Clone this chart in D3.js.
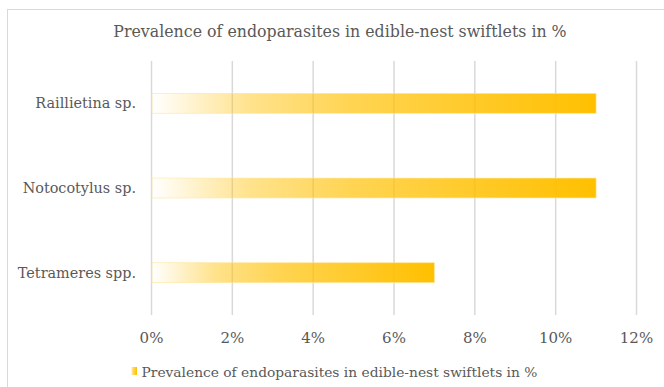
<!DOCTYPE html>
<html>
<head>
<meta charset="utf-8">
<style>
    body { margin: 0; background: #fff; }
</style>
<script src="https://d3js.org/d3.v7.min.js"></script>
</head>
<body>
<script>
    // data
    const categories = ['Raillietina sp.', 'Notocotylus sp.', 'Tetrameres spp.'];
    const prevalence = [0.11, 0.11, 0.07];
    const tickValues = [0, 0.02, 0.04, 0.06, 0.08, 0.10, 0.12];
    const seriesName = 'Prevalence of endoparasites in edible-nest swiftlets in %';
    const title = 'Prevalence of endoparasites in edible-nest swiftlets in %';

    const width = 664, height = 387;
    const plot = { left: 151.5, right: 636.5, top: 61, bottom: 315 };
    const serif = '"DejaVu Serif", serif';

    const svg = d3.select('body').append('svg')
        .attr('width', width)
        .attr('height', height)
        .style('font-family', serif);

    // gradient used by the bars
    const grad = svg.append('defs').append('linearGradient')
        .attr('id', 'barGrad')
        .attr('x1', '0%').attr('x2', '100%').attr('y1', '0%').attr('y2', '0%');
    grad.append('stop').attr('offset', '0%').attr('stop-color', '#FFC000').attr('stop-opacity', 0);
    grad.append('stop').attr('offset', '22%').attr('stop-color', '#FFC000').attr('stop-opacity', 0.45);
    grad.append('stop').attr('offset', '45%').attr('stop-color', '#FFC000').attr('stop-opacity', 0.68);
    grad.append('stop').attr('offset', '100%').attr('stop-color', '#FFC000').attr('stop-opacity', 1);

    // chart frame
    svg.append('rect')
        .attr('x', 7.5).attr('y', 9.5)
        .attr('width', width + 20).attr('height', height + 20)
        .attr('fill', 'none')
        .attr('stroke', '#d9d9d9')
        .attr('stroke-width', 1);

    const x = d3.scaleLinear()
        .domain([0, 0.12])
        .range([plot.left, plot.right]);

    const y = d3.scaleBand()
        .domain(categories)
        .range([plot.top, plot.bottom])
        .paddingInner(0.765)
        .paddingOuter(0.3825);

    // vertical gridlines
    svg.append('g')
        .selectAll('line')
        .data(tickValues)
        .join('line')
        .attr('x1', d => x(d)).attr('x2', d => x(d))
        .attr('y1', plot.top).attr('y2', plot.bottom)
        .attr('stroke', '#d9d9d9')
        .attr('stroke-width', 1.5);

    // x tick labels
    svg.append('g')
        .selectAll('text')
        .data(tickValues)
        .join('text')
        .attr('x', d => x(d))
        .attr('y', 343)
        .attr('text-anchor', 'middle')
        .attr('fill', '#595959')
        .attr('font-size', 15)
        .text(d3.format('.0%'));

    // bars
    svg.append('g')
        .selectAll('rect')
        .data(prevalence)
        .join('rect')
        .attr('x', x(0) + 0.5)
        .attr('y', (d, i) => y(categories[i]))
        .attr('width', d => x(d) - x(0) - 0.5)
        .attr('height', y.bandwidth())
        .attr('fill', 'url(#barGrad)')
        .attr('stroke', '#FFE699')
        .attr('stroke-opacity', 0.8)
        .attr('stroke-width', 0.75);

    // category labels
    svg.append('g')
        .selectAll('text')
        .data(categories)
        .join('text')
        .attr('x', 136)
        .attr('y', d => y(d) + y.bandwidth() / 2)
        .attr('dy', '0.35em')
        .attr('text-anchor', 'end')
        .attr('fill', '#595959')
        .attr('font-size', 14.4)
        .text(d => d);

    // title
    svg.append('text')
        .attr('x', 340)
        .attr('y', 37)
        .attr('text-anchor', 'middle')
        .attr('fill', '#595959')
        .attr('font-size', 15.8)
        .text(title);

    // legend
    svg.append('rect')
        .attr('x', 131).attr('y', 367)
        .attr('width', 6).attr('height', 8)
        .attr('fill', 'url(#barGrad)');
    svg.append('text')
        .attr('x', 141.5)
        .attr('y', 377)
        .attr('fill', '#595959')
        .attr('font-size', 13.8)
        .text(seriesName);
</script>
</body>
</html>
